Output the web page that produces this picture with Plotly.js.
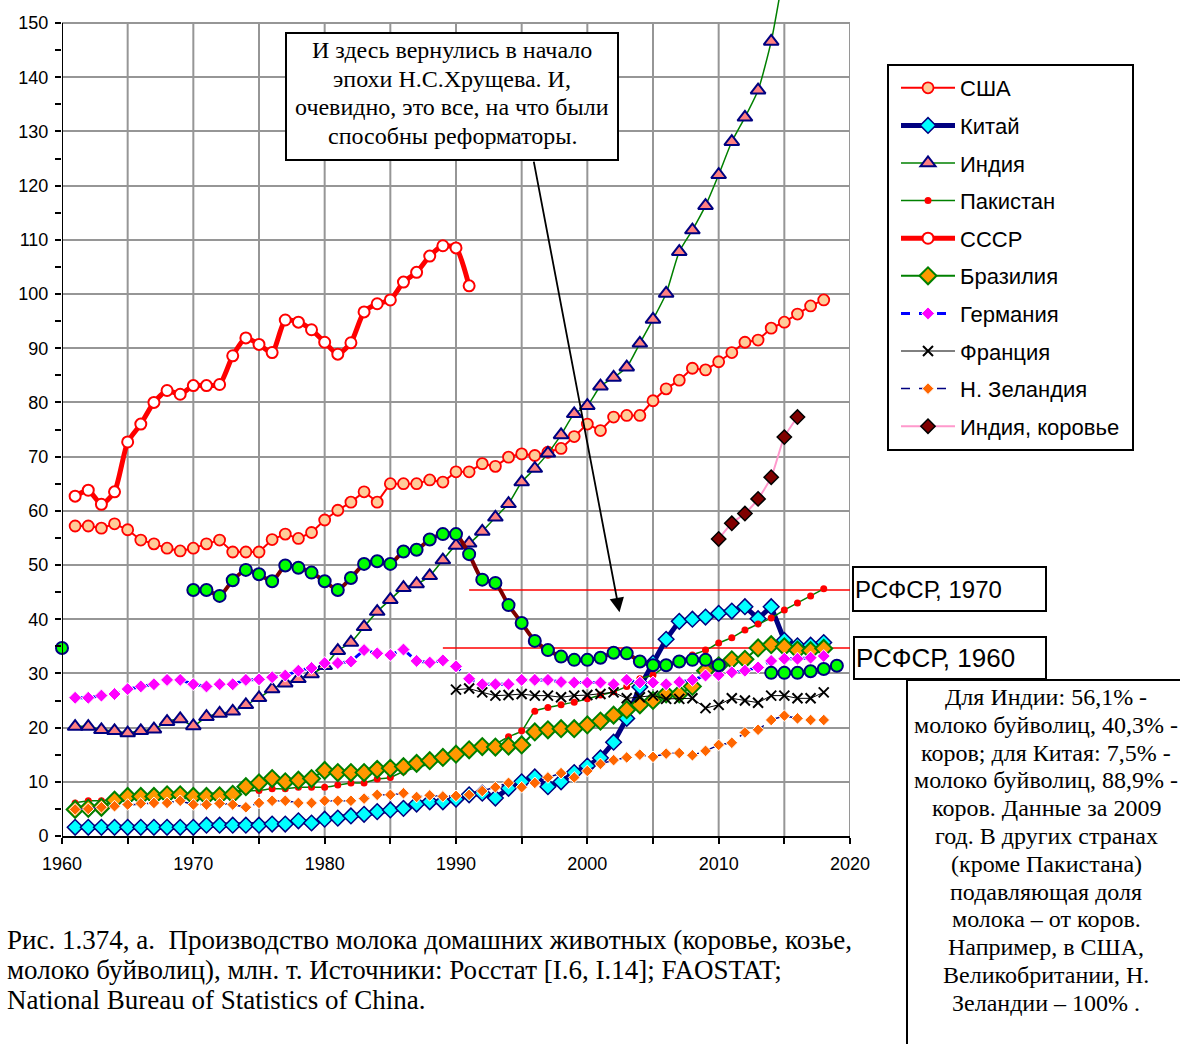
<!DOCTYPE html>
<html>
<head>
<meta charset="utf-8">
<script src="https://cdn.plot.ly/plotly-3.0.1.min.js"></script>
<style>
  html, body { margin: 0; padding: 0; background: #ffffff; }
  #chart { width: 1180px; height: 1044px; }
</style>
</head>
<body>
<div id="chart"></div>
<script>
// ---------------- DATA ----------------
const usaStart = 1961;
const usaValues = [57.2, 57.2, 56.8, 57.6, 56.5, 54.6, 53.9, 53.1, 52.6, 53.1,
  53.9, 54.6, 52.4, 52.4, 52.4, 54.7, 55.7, 54.9, 56.0, 58.3,
  60.1, 61.6, 63.5, 61.6, 65.0, 65.0, 65.0, 65.7, 65.3, 67.2,
  67.2, 68.7, 68.2, 69.9, 70.5, 70.2, 70.8, 71.5, 73.7, 76.0,
  74.8, 77.3, 77.6, 77.6, 80.3, 82.5, 84.1, 86.3, 86.0, 87.5,
  89.2, 91.1, 91.5, 93.7, 94.8, 96.3, 97.8, 98.9];

const chinaStart = 1961;
const chinaValues = [1.6, 1.6, 1.6, 1.6, 1.6, 1.6, 1.6, 1.6, 1.6, 1.6,
  2.0, 2.0, 2.0, 2.0, 2.0, 2.2, 2.2, 2.8, 2.4, 3.1,
  3.3, 3.7, 4.0, 4.5, 4.8, 5.1, 5.9, 6.3, 6.3, 6.8,
  7.6, 7.9, 7.0, 8.8, 10.0, 10.9, 9.1, 10.0, 11.7, 12.9,
  14.4, 17.3, 21.7, 27.5, 31.9, 36.3, 39.6, 40.0, 40.4, 41.1,
  41.5, 42.3, 40.1, 42.3, 36.1, 35.1, 35.2, 35.7];

const indiaStart = 1961;
const indiaValues = [20.2, 20.2, 19.6, 19.4, 19.0, 19.4, 19.7, 21.1, 21.6, 20.3,
  22.0, 22.6, 23.0, 24.2, 25.5, 27.1, 28.2, 29.0, 29.9, 31.4,
  34.2, 35.7, 38.6, 41.4, 43.6, 45.8, 46.5, 48.0, 50.9, 53.6,
  54.0, 56.2, 58.8, 61.3, 65.3, 67.8, 70.6, 74.0, 77.9, 79.4,
  83.0, 84.6, 86.5, 90.9, 95.3, 100.1, 107.8, 111.8, 116.3, 122.0,
  128.1, 132.6, 137.6, 146.6, 160.0];

const pakistanStart = 1961;
const pakistanValues = [6.1, 6.5, 6.5, 6.8, 7.0, 7.2, 7.3, 7.5, 7.6, 7.8,
  7.9, 7.9, 8.0, 8.3, 8.4, 8.7, 8.7, 9.0, 9.0, 9.0,
  9.4, 9.8, 9.8, 10.5, 10.8, 11.9, 12.6, 13.3, 14.0, 14.6,
  15.5, 16.3, 17.0, 18.3, 19.4, 23.0, 23.7, 24.2, 24.7, 25.3,
  26.0, 26.6, 27.6, 29.0, 29.7, 31.4, 32.2, 33.4, 34.3, 35.6,
  36.6, 38.0, 39.1, 40.2, 41.7, 43.0, 44.3, 45.6];

const ussrStart = 1961;
const ussrValues = [62.7, 63.8, 61.2, 63.5, 72.7, 76.0, 80.0, 82.2, 81.5, 83.1,
  83.1, 83.3, 88.6, 91.9, 90.7, 89.2, 95.2, 94.8, 93.4, 91.1,
  88.9, 91.0, 96.7, 98.2, 98.9, 102.2, 104.0, 107.0, 108.9, 108.5,
  101.5];

const brazilStart = 1961;
const brazilValues = [4.9, 5.1, 5.3, 6.6, 7.3, 7.3, 7.3, 7.6, 7.6, 7.3,
  7.3, 7.4, 7.7, 9.1, 9.8, 10.6, 10.0, 10.3, 10.6, 12.1,
  11.7, 11.7, 11.7, 12.3, 12.5, 12.8, 13.4, 13.9, 14.5, 15.1,
  15.9, 16.5, 16.4, 16.6, 16.8, 19.2, 19.6, 19.8, 19.8, 20.5,
  21.2, 22.3, 23.3, 24.2, 25.0, 26.2, 26.2, 27.6, 30.5, 31.4,
  32.5, 32.6, 34.7, 35.3, 34.9, 34.3, 34.2, 34.6];

const germanyStart = 1961;
const germanyValues = [25.5, 25.5, 25.9, 26.2, 27.1, 27.6, 28.0, 28.8, 28.8, 28.0,
  27.6, 28.0, 28.0, 28.8, 28.9, 29.3, 29.6, 30.5, 31.0, 31.9,
  31.9, 32.2, 34.3, 33.7, 33.4, 34.4, 32.3, 32.0, 32.4, 31.3,
  29.0, 28.0, 28.0, 28.0, 28.8, 28.8, 28.8, 28.4, 28.3, 28.3,
  28.3, 28.0, 28.8, 28.3, 28.3, 28.0, 28.4, 28.8, 29.6, 29.7,
  30.2, 30.5, 31.1, 32.3, 32.7, 32.7, 32.9, 33.2];

const franceStart = 1990;
const franceValues = [27.0, 27.2, 26.5, 25.9, 26.0, 26.2, 25.9, 25.9, 25.6, 25.9,
  26.0, 26.2, 26.5, 25.4, 25.6, 25.9, 25.3, 25.3, 25.4, 23.6,
  24.2, 25.4, 25.0, 24.6, 25.9, 25.9, 25.4, 25.4, 26.5];

const nzStart = 1961;
const nzValues = [4.9, 5.0, 5.3, 5.5, 5.8, 6.0, 6.1, 6.1, 6.5, 5.8,
  5.8, 6.0, 5.8, 5.3, 6.1, 6.5, 6.5, 6.1, 6.1, 6.5,
  6.5, 6.5, 6.9, 7.6, 7.6, 7.9, 7.2, 7.5, 7.3, 7.4,
  7.6, 8.3, 9.0, 9.8, 9.0, 9.8, 10.8, 11.6, 10.8, 12.0,
  13.3, 14.0, 14.5, 15.0, 14.6, 15.2, 15.3, 14.9, 15.7, 16.8,
  17.2, 19.1, 19.6, 21.4, 22.2, 21.7, 21.4, 21.4];

const indiaCowStart = 2010;
const indiaCowValues = [54.8, 57.7, 59.5, 62.2, 66.2, 73.6, 77.3];

// RSFSR / Russia (not in legend): 1960 point, 1970-2010, 2014-2019
const rsfsr1960Year = 1960;
const rsfsr1960Value = 34.7;
const russiaAStart = 1970;
const russiaAValues = [45.4, 45.4, 44.3, 47.2, 49.1, 48.3, 47.0, 49.9, 49.5, 48.6,
  47.0, 45.4, 47.6, 50.2, 50.7, 50.2, 52.5, 52.8, 54.7, 55.7,
  55.7, 52.0, 47.3, 46.7, 42.6, 39.3, 36.0, 34.3, 33.1, 32.5,
  32.5, 32.9, 33.8, 33.7, 32.2, 31.5, 31.5, 32.2, 32.5, 32.5, 31.5];
const russiaBStart = 2014;
const russiaBValues = [30.1, 30.1, 30.1, 30.4, 30.8, 31.4];

// reference lines (RSFSR level of 1970 and 1960)
const ref1970Years = [1991, 2020];
const ref1960Years = [1989, 2020];

const xTickVals = [1960, 1965, 1970, 1975, 1980, 1985, 1990, 1995, 2000, 2005, 2010, 2015, 2020];
const xTickText = ['1960', '', '1970', '', '1980', '', '1990', '', '2000', '', '2010', '', '2020'];
const yTickVals = [0, 10, 20, 30, 40, 50, 60, 70, 80, 90, 100, 110, 120, 130, 140, 150];

const names = ['США', 'Китай', 'Индия', 'Пакистан', 'СССР', 'Бразилия', 'Германия', 'Франция', 'Н. Зеландия', 'Индия, коровье'];

const boxLines = ['И здесь вернулись в начало', 'эпохи Н.С.Хрущева. И,', 'очевидно, это все, на что были', 'способны реформаторы.'];
const noteLines = ['Для Индии: 56,1% -', 'молоко буйволиц, 40,3% -', 'коров; для Китая: 7,5% -', 'молоко буйволиц, 88,9% -',
  'коров. Данные за 2009', 'год. В других странах', '(кроме Пакистана)', 'подавляющая доля',
  'молока – от коров.', 'Например, в США,', 'Великобритании, Н.', 'Зеландии – 100% .'];
const captionLines = ['Рис. 1.374, а.  Производство молока домашних животных (коровье, козье,',
  'молоко буйволиц), млн. т. Источники: Росстат [I.6, I.14]; FAOSTAT;',
  'National Bureau of Statistics of China.'];

// ---------------- BUILD ----------------
function yearsFrom(start, n) { const a = []; for (let i = 0; i < n; i++) a.push(start + i); return a; }

const SANS = 'Liberation Sans, Arial, sans-serif';
const SERIF = 'Liberation Serif, Times New Roman, serif';

const russiaX = [rsfsr1960Year, null].concat(yearsFrom(russiaAStart, russiaAValues.length), [null], yearsFrom(russiaBStart, russiaBValues.length));
const russiaY = [rsfsr1960Value, null].concat(russiaAValues, [null], russiaBValues);

const level1970 = russiaAValues[0];
const level1960 = rsfsr1960Value;

const traces = [];
traces.push({ x: ref1970Years, y: [level1970, level1970], mode: 'lines', line: { color: '#FF0000', width: 1.5 }, showlegend: false, hoverinfo: 'skip' });
traces.push({ x: ref1960Years, y: [level1960, level1960], mode: 'lines', line: { color: '#FF0000', width: 1.5 }, showlegend: false, hoverinfo: 'skip' });

function series(i, start, vals, line, marker) {
  return { name: names[i], legendgroup: 'g' + i, x: yearsFrom(start, vals.length), y: vals, mode: 'lines+markers', line: line, marker: marker };
}
traces.push(series(0, usaStart, usaValues, { color: '#FF0000', width: 2 }, { symbol: 'circle', size: 11, color: '#FFCC99', line: { color: '#FF0000', width: 1.8 } }));
traces.push(series(1, chinaStart, chinaValues, { color: '#000080', width: 5 }, { symbol: 'diamond', size: 12, color: '#00FFFF', line: { color: '#000080', width: 1.5 } }));
traces.push(series(2, indiaStart, indiaValues, { color: '#008000', width: 1.5, shape: 'spline', smoothing: 0.6 }, { symbol: 'triangle-up', size: 13, color: '#FF8080', line: { color: '#000080', width: 2 } }));
traces.push(series(3, pakistanStart, pakistanValues, { color: '#008000', width: 1.5, shape: 'spline', smoothing: 0.6 }, { symbol: 'circle', size: 7, color: '#FF0000', line: { width: 0 } }));
traces.push(series(4, ussrStart, ussrValues, { color: '#FF0000', width: 5, shape: 'spline', smoothing: 0.6 }, { symbol: 'circle', size: 11, color: '#FFFFFF', line: { color: '#FF0000', width: 2 } }));
traces.push(series(5, brazilStart, brazilValues, { color: '#008000', width: 2 }, { symbol: 'diamond', size: 13, color: '#FF9900', line: { color: '#008000', width: 2 } }));
traces.push(series(6, germanyStart, germanyValues, { color: '#0000FF', width: 3, dash: 'dash' }, { symbol: 'diamond', size: 10, color: '#FF00FF', line: { color: '#FFFFFF', width: 1 } }));
traces.push(series(7, franceStart, franceValues, { color: '#000000', width: 1 }, { symbol: 'x-thin-open', size: 10, color: '#000000', line: { color: '#000000', width: 2 } }));
traces.push(series(8, nzStart, nzValues, { color: '#000080', width: 1.5, dash: 'dash' }, { symbol: 'diamond', size: 9, color: '#FF6600', line: { color: '#FFFFFF', width: 1 } }));
traces.push(series(9, indiaCowStart, indiaCowValues, { color: '#FF99CC', width: 2, shape: 'spline', smoothing: 0.6 }, { symbol: 'diamond', size: 11, color: '#800000', line: { color: '#000000', width: 1.5 } }));
traces.push({ x: russiaX, y: russiaY, mode: 'lines+markers', showlegend: false, cliponaxis: false, connectgaps: false,
  line: { color: '#800000', width: 4, shape: 'spline', smoothing: 0.6 },
  marker: { symbol: 'circle', size: 12, color: '#00FF00', line: { color: '#000080', width: 2 } } });

// plot geometry (px): left 62, right 850, top of 150 at 23, zero at 836
const YMAX = 150 * 836 / 813;
function px(xp) { return (xp - 62) / 788; }
function py(yp) { return (836 - yp) / 836; }

const shapes = [];
xTickVals.forEach(function (v) {
  if (v === 1960) return;
  shapes.push({ type: 'line', xref: 'x', yref: 'y', x0: v, x1: v, y0: 0, y1: 150, line: { color: '#969696', width: 2 }, layer: 'below' });
});
shapes.push({ type: 'line', xref: 'x', yref: 'y', x0: 1960, x1: 1960, y0: 0, y1: 150, line: { color: '#000000', width: 2 }, layer: 'above' });
// note box (right bottom)
shapes.push({ type: 'rect', xref: 'paper', yref: 'paper', x0: px(907), x1: px(1200), y0: py(1060), y1: py(680), line: { color: '#000000', width: 2 }, fillcolor: 'rgba(0,0,0,0)' });
// comment box (top)
shapes.push({ type: 'rect', xref: 'paper', yref: 'paper', x0: px(286), x1: px(618), y0: py(160), y1: py(33), line: { color: '#000000', width: 2 }, fillcolor: '#FFFFFF', layer: 'above' });
// legend frame
shapes.push({ type: 'rect', xref: 'paper', yref: 'paper', x0: px(888), x1: px(1133), y0: py(450), y1: py(65), line: { color: '#000000', width: 2 }, fillcolor: '#FFFFFF', layer: 'below' });

const annotations = [
  { xref: 'x', yref: 'y', x: 2002.45, y: 41.3, ax: -86, ay: -452, text: '', showarrow: true, arrowhead: 2, arrowsize: 1.6, arrowwidth: 1.8, arrowcolor: '#000000', standoff: 0 },
  { xref: 'paper', yref: 'paper', x: px(852), y: py(589), xanchor: 'left', yanchor: 'middle', showarrow: false,
    text: 'РСФСР, 1970', font: { family: SANS, size: 24, color: '#000000' }, align: 'left', bgcolor: '#FFFFFF', bordercolor: '#000000', borderwidth: 2, borderpad: 1, width: 189, height: 40 },
  { xref: 'paper', yref: 'paper', x: px(853), y: py(658), xanchor: 'left', yanchor: 'middle', showarrow: false,
    text: 'РСФСР, 1960', font: { family: SANS, size: 26, color: '#000000' }, align: 'left', bgcolor: '#FFFFFF', bordercolor: '#000000', borderwidth: 2, borderpad: 1, width: 188, height: 38 }
];
boxLines.forEach(function (t, i) {
  annotations.push({ xref: 'paper', yref: 'paper', x: px(452), y: py(50 + i * 28.5), xanchor: 'center', yanchor: 'middle', showarrow: false,
    text: t, font: { family: SERIF, size: 24, color: '#000000' } });
});
noteLines.forEach(function (t, i) {
  annotations.push({ xref: 'paper', yref: 'paper', x: px(1046), y: py(697 + i * 27.8), xanchor: 'center', yanchor: 'middle', showarrow: false,
    text: t, font: { family: SERIF, size: 24, color: '#000000' } });
});
captionLines.forEach(function (t, i) {
  annotations.push({ xref: 'paper', yref: 'paper', x: px(5), y: py(940 + i * 30), xanchor: 'left', yanchor: 'middle', showarrow: false,
    text: t, font: { family: SERIF, size: 27, color: '#000000' } });
});

const layout = {
  width: 1180, height: 1044,
  margin: { l: 62, r: 330, t: 0, b: 208 },
  paper_bgcolor: '#FFFFFF', plot_bgcolor: '#FFFFFF',
  font: { family: SANS, size: 18, color: '#000000' },
  xaxis: { range: [1960, 2020], tickmode: 'array', tickvals: xTickVals, ticktext: xTickText,
    showgrid: false, zeroline: false, showline: true, linecolor: '#000000', linewidth: 2,
    ticks: 'outside', ticklen: 6, tickwidth: 2, tickcolor: '#000000', ticklabelstandoff: 4,
    tickfont: { family: SANS, size: 18, color: '#000000' }, fixedrange: true },
  yaxis: { range: [0, YMAX], tickmode: 'array', tickvals: yTickVals,
    showgrid: true, gridcolor: '#969696', gridwidth: 2, zeroline: false, showline: false,
    ticks: 'outside', ticklen: 6, tickwidth: 2, tickcolor: '#000000', ticklabelstandoff: 3,
    minor: { tickmode: 'array', tickvals: [5, 15, 25, 35, 45, 55, 65, 75, 85, 95, 105, 115, 125, 135, 145], ticks: 'outside', ticklen: 6, tickwidth: 2, tickcolor: '#000000', showgrid: false },
    tickfont: { family: SANS, size: 18, color: '#000000' }, fixedrange: true },
  showlegend: true,
  legend: { x: px(896), y: py(67), xanchor: 'left', yanchor: 'top', bgcolor: 'rgba(0,0,0,0)', borderwidth: 0,
    font: { family: SANS, size: 22, color: '#000000' }, tracegroupgap: 6, traceorder: 'grouped', itemsizing: 'trace', itemwidth: 54 },
  shapes: shapes,
  annotations: annotations
};

Plotly.newPlot('chart', traces, layout, { staticPlot: true, displayModeBar: false });
</script>
</body>
</html>
